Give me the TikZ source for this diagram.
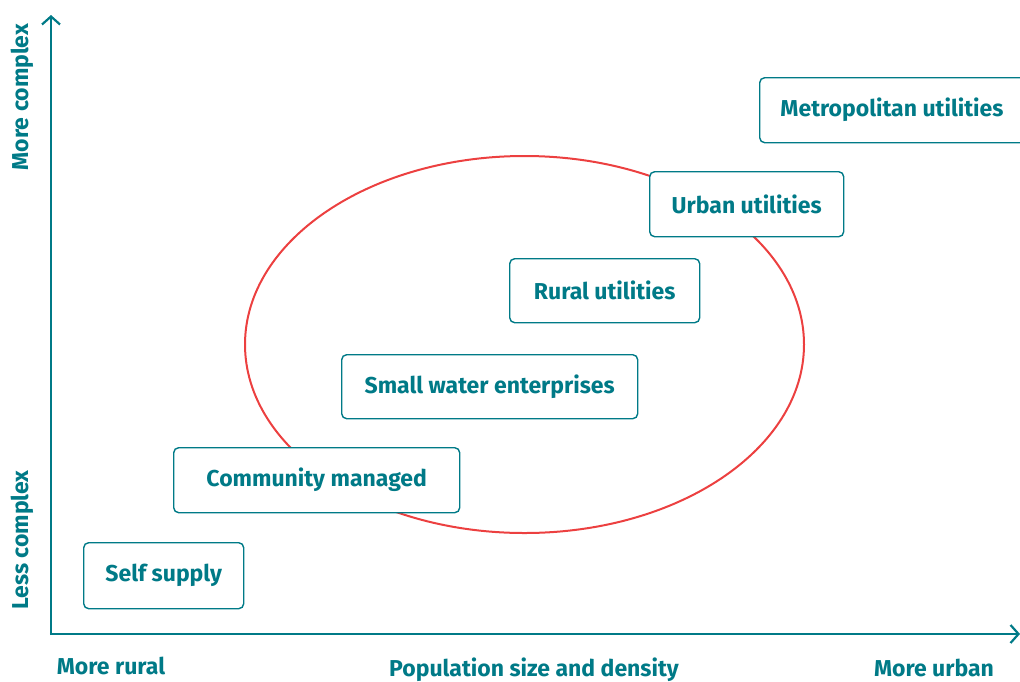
\documentclass[tikz,border=0pt]{standalone}
\usepackage{fontspec}
\setmainfont{Fira Sans}
\usetikzlibrary{arrows.meta}
\definecolor{teal}{RGB}{0,122,135}
\definecolor{ringred}{RGB}{236,64,64}
\begin{document}
\begin{tikzpicture}[x=1pt,y=-1pt,
  lbl/.style={text=teal,font=\fontsize{23}{26}\selectfont\bfseries,inner sep=0pt},
  cat/.style={draw=teal,fill=white,line width=1.4pt,rounded corners=5pt,anchor=north west,inner sep=0pt},
  axis/.style={draw=teal,line width=2.4pt,-{Straight Barb[length=8pt,width=18pt,line width=2.2pt]}}]
\useasboundingbox (0,0) rectangle (1020,681);
\coordinate (o) at (51,634);
\coordinate (ytop) at (51,15);
\coordinate (xend) at (1020,634);
\draw[axis] (51,635.2) -- (ytop);
\draw[axis] (49.8,634) -- (xend);
\draw[ringred,line width=2pt] (524.5,344.5) ellipse [x radius=279.5,y radius=188.5];
\node[cat,minimum width=300,minimum height=65] (metro) at (759,77) {};
\node[lbl] at (892,110) {Metropolitan utilities};
\node[cat,minimum width=194,minimum height=65] (urban) at (649,171) {};
\node[lbl] at (urban.center) {Urban utilities};
\node[cat,minimum width=190,minimum height=64] (rural) at (509,258) {};
\node[lbl] at (rural.center) {Rural utilities};
\node[cat,minimum width=296,minimum height=64] (swe) at (341,354) {};
\node[lbl] at (swe.center) {Small water enterprises};
\node[cat,minimum width=286,minimum height=65] (comm) at (173,447) {};
\node[lbl] at (comm.center) {Community managed};
\node[cat,minimum width=160,minimum height=66] (self) at (83,542) {};
\node[lbl] at (self.center) {Self supply};
\node[lbl,rotate=90] (mc) at (22,97) {More complex};
\node[lbl,rotate=90] (lc) at (22,540) {Less complex};
\node[lbl,anchor=base] (mr) at (111,674) {More rural};
\node[lbl,anchor=base] (pop) at (534,676) {Population size and density};
\node[lbl,anchor=base] (mu) at (934,676) {More urban};
\end{tikzpicture}
\end{document}
